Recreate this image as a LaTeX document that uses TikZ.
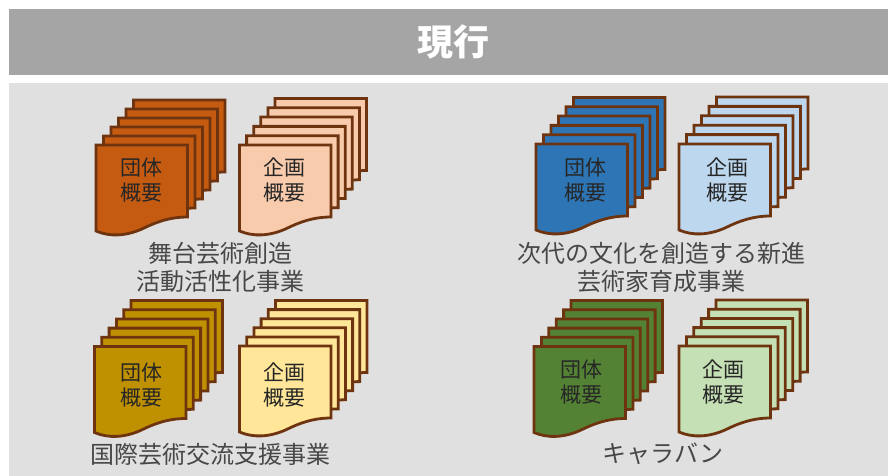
\documentclass[tikz,border=0pt]{standalone}
\usepackage{fontspec}
\setmainfont{Noto Sans CJK JP}
\definecolor{lineBrown}{HTML}{6E3410}
\definecolor{bandGray}{HTML}{A5A5A5}
\definecolor{panelGray}{HTML}{E0E0E0}
\definecolor{orangeD}{HTML}{C55A11}\definecolor{orangeL}{HTML}{F8CBAD}
\definecolor{blueD}{HTML}{2E75B6}\definecolor{blueL}{HTML}{BDD7EE}
\definecolor{goldD}{HTML}{BF9000}\definecolor{goldL}{HTML}{FFE699}
\definecolor{greenD}{HTML}{548235}\definecolor{greenL}{HTML}{C5E0B4}
\tikzset{
  docsheet/.style={draw=lineBrown,line width=2.8pt,line join=miter},
  doctext/.style={font=\fontsize{21}{25}\selectfont,text=black!85,align=center,inner sep=0pt},
  caption/.style={font=\fontsize{24}{28.5}\selectfont,text=black!72,align=center,inner sep=0pt},
}
% #1 name, #2 front x, #3 front top, #4 back x, #5 back top, #6 fill, #7 text, #8,#9 text centre
\newcommand{\docstack}[9]{%
  \foreach \i in {5,4,3,2,1,0}{%
    \pgfmathsetmacro{\px}{#2+(#4-#2)*\i/5}%
    \pgfmathsetmacro{\py}{#3+(#5-#3)*\i/5}%
    \fill[#6,docsheet,shift={(\px,\py)}] (0,0) -- (91.5,0) -- (91.5,72)
      .. controls (74,72) and (60,77) .. (46,84)
      .. controls (30,91) and (14,92) .. (0,86) -- cycle;
  }%
  \node[doctext] (#1) at (#8,#9) {#7};
}
\begin{document}
\begin{tikzpicture}[x=1pt,y=-1pt]
\useasboundingbox (0,0) rectangle (888,476);
\fill[white] (0,0) rectangle (888,476);
\fill[bandGray] (8.5,9) rectangle (888,75);
\fill[panelGray] (8.5,83) rectangle (888,476);
\node[font=\fontsize{36}{40}\bfseries\selectfont,text=white,inner sep=0pt] (title) at (453,41.5) {現行};

\docstack{a1}{96}{145}{133.5}{100}{orangeD}{団体\\概要}{141.7}{180.5}
\docstack{a2}{239.5}{145}{275}{98.5}{orangeL}{企画\\概要}{284}{180.5}
\docstack{b1}{536}{144}{573.5}{97.5}{blueD}{団体\\概要}{585}{180.5}
\docstack{b2}{679}{144}{716.5}{97}{blueL}{企画\\概要}{727}{180.5}
\docstack{c1}{94.5}{346.5}{131}{300.5}{goldD}{団体\\概要}{141.7}{385}
\docstack{c2}{239.5}{346}{275.5}{300.5}{goldL}{企画\\概要}{284}{385}
\docstack{d1}{534}{346.5}{571}{300.5}{greenD}{団体\\概要}{581}{382}
\docstack{d2}{679}{346}{716}{300}{greenL}{企画\\概要}{723}{382}

\node[caption] (ca) at (220,267.5) {舞台芸術創造\\活動活性化事業};
\node[caption] (cb) at (661,267.5) {次代の文化を創造する新進\\芸術家育成事業};
\node[caption] (cc) at (210,454) {国際芸術交流支援事業};
\node[caption] (cd) at (663,454) {キャラバン};
\end{tikzpicture}
\end{document}
